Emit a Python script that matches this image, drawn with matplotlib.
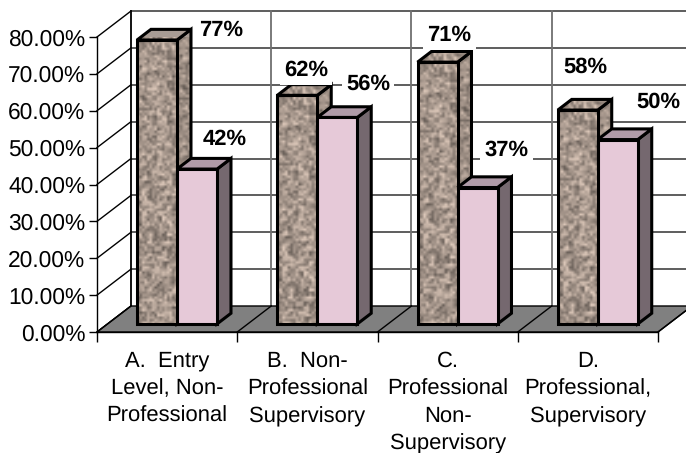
import matplotlib
matplotlib.use('Agg')
import matplotlib.pyplot as plt
import numpy as np
from matplotlib.patches import Polygon

plt.rcParams['font.family'] = ['Liberation Sans', 'DejaVu Sans']
plt.rcParams['text.hinting'] = 'none'

# data
categories = ['A.  Entry\nLevel, Non-\nProfessional',
              'B.  Non-\nProfessional\nSupervisory',
              'C.\nProfessional\nNon-\nSupervisory',
              'D.\nProfessional,\nSupervisory']
series_a = [77, 62, 71, 58]
series_b = [42, 56, 37, 50]
y_ticks = [0, 10, 20, 30, 40, 50, 60, 70, 80]

# label offsets from the bar top, in pixels
offsets_a = [(64, 10), (9, 25), (12, 27), (8, 43)]
offsets_b = [(28, 30), (31, 33), (29, 37), (41, 37)]

W, H = 686, 453
fig = plt.figure(figsize=(W / 100, H / 100), dpi=100)
ax = fig.add_axes([97 / W, 1 - 332 / H, (658 - 97) / W, (332 - 37) / H])

# oblique projection: how far a full depth step moves in data units
DX = 34 / 140.25
DY = 26 / 3.6875


def proj(x, y, d):
    return (x + d * DX, y + d * DY)


def hash_texture(rows, cols, shade):
    # mottled stone pattern for the first series, only a fill
    i, j = np.mgrid[0:rows, 0:cols]
    n = np.sin(i * 12.9898 + j * 78.233) * 43758.5453
    n = n - np.floor(n)
    n2 = np.sin((i // 2) * 39.346 + (j // 2) * 11.135) * 24634.6345
    n2 = n2 - np.floor(n2)
    v = 0.55 * n + 0.45 * n2
    v = 0.36 + 0.48 * v
    rgb = np.dstack([v * 1.07, v * 0.97, v * 0.90]) * shade
    return np.clip(rgb, 0, 1)


def textured_face(pts, shade, z):
    poly = Polygon(pts, closed=True, facecolor='#a89c94', edgecolor='none',
                   clip_on=False, zorder=z)
    ax.add_patch(poly)
    xs = [p[0] for p in pts]
    ys = [p[1] for p in pts]
    px_w = (max(xs) - min(xs)) * 140.25
    px_h = (max(ys) - min(ys)) * 3.6875
    tex = hash_texture(max(int(px_h / 2.5), 2), max(int(px_w / 2.5), 2), shade)
    im = ax.imshow(tex, extent=[min(xs), max(xs), min(ys), max(ys)], aspect='auto',
                   interpolation='bilinear', zorder=z)
    im.set_clip_path(poly)
    outline = Polygon(pts, closed=True, facecolor='none', edgecolor='black',
                      linewidth=2.2, joinstyle='miter', clip_on=False, zorder=z + 0.1)
    ax.add_patch(outline)


def plain_face(pts, color, z):
    ax.add_patch(Polygon(pts, closed=True, facecolor=color, edgecolor='black',
                         linewidth=2.2, joinstyle='miter', clip_on=False, zorder=z))


def draw_bar(x, w, val, textured, z):
    d0, d1 = 0.31, 0.72
    front = [proj(x, 0, d0), proj(x + w, 0, d0), proj(x + w, val, d0), proj(x, val, d0)]
    side = [proj(x + w, 0, d0), proj(x + w, 0, d1), proj(x + w, val, d1), proj(x + w, val, d0)]
    top = [proj(x, val, d0), proj(x + w, val, d0), proj(x + w, val, d1), proj(x, val, d1)]
    if textured:
        textured_face(side, 0.95, z)
        textured_face(top, 1.0, z + 0.2)
        textured_face(front, 1.0, z + 0.4)
    else:
        plain_face(side, '#75686f', z)
        plain_face(top, '#b09ba8', z + 0.2)
        plain_face(front, '#e6c9d8', z + 0.4)


n = len(categories)

# floor
ax.add_patch(Polygon([proj(0, 0, 0), proj(n, 0, 0), proj(n, 0, 1), proj(0, 0, 1)],
                     closed=True, facecolor='#808080', edgecolor='black', linewidth=1,
                     clip_on=False, zorder=1))
for c in range(n + 1):
    x0, y0 = proj(c, 0, 0)
    x1, y1 = proj(c, 0, 1)
    ax.plot([x0, x1], [y0, y1], color='black', lw=1, clip_on=False, zorder=1.5)

# back wall grid and left wall
for t in y_ticks:
    x0, y0 = proj(0, t, 0)
    x1, y1 = proj(0, t, 1)
    x2, y2 = proj(n, t, 1)
    ax.plot([x0, x1], [y0, y1], color='black', lw=1, clip_on=False, zorder=0.5)
    if t > 0:
        ax.plot([x1, x2], [y1, y2], color='#505050', lw=1.3, clip_on=False, zorder=0.5)
for c in range(n + 1):
    x0, y0 = proj(c, 0, 1)
    x1, y1 = proj(c, y_ticks[-1], 1)
    ax.plot([x0, x1], [y0, y1], color='black' if c == 0 else '#707070',
            lw=1.3, clip_on=False, zorder=0.5)

# bars
bar_w = 40 / 140.25
bar_start = 29.5 / 140.25
for c in range(n):
    draw_bar(c + bar_start, bar_w, series_a[c], True, 3 + c)
    draw_bar(c + bar_start + bar_w, bar_w, series_b[c], False, 3.5 + c)

# value labels with their white boxes
for c in range(n):
    for vals, offs, k in ((series_a, offsets_a, 0), (series_b, offsets_b, 1)):
        xy = proj(c + bar_start + (k + 0.5) * bar_w, vals[c], 0.31)
        ax.annotate('%d%%' % vals[c], xy=xy, xytext=offs[c], textcoords='offset pixels',
                    ha='center', va='center', fontsize=15.8, fontweight='bold',
                    bbox=dict(facecolor='white', edgecolor='none', pad=3),
                    annotation_clip=False, zorder=20)

ax.set_xlim(0, n)
ax.set_ylim(0, 80)
ax.patch.set_visible(False)
for s in ('top', 'right'):
    ax.spines[s].set_visible(False)
ax.spines['left'].set_linewidth(1)
ax.spines['bottom'].set_linewidth(1)

ax.set_yticks(y_ticks)
ax.set_yticklabels(['%.2f%%' % t for t in y_ticks], fontsize=16.4)
ax.set_xticks(range(n + 1))
ax.set_xticklabels([])
ax.set_xticks([c + 0.5 for c in range(n)], minor=True)
ax.set_xticklabels(categories, minor=True, fontsize=15.8, linespacing=1.45)
ax.tick_params(axis='x', which='minor', length=0, pad=13.5)
ax.tick_params(axis='x', which='major', length=7, width=1)
ax.tick_params(axis='y', length=6, width=1, pad=2.5)

fig.savefig('out.png', dpi=100)
